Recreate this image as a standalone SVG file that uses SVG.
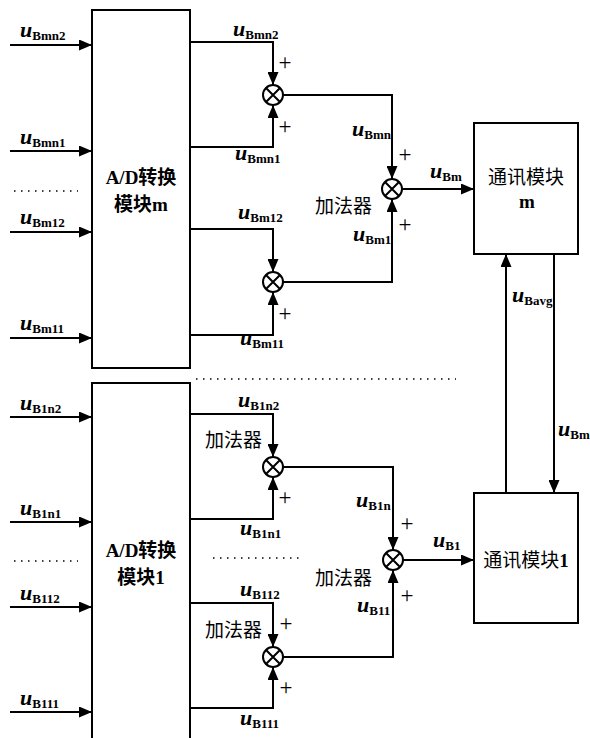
<svg xmlns="http://www.w3.org/2000/svg" width="590" height="738" viewBox="0 0 590 738">
<style>
.ln{fill:none;stroke:#000;stroke-width:2}
.ar{fill:none;stroke:#000;stroke-width:2;marker-end:url(#ah)}
.bx{fill:#fff;stroke:#000;stroke-width:2}
.dot{fill:none;stroke:#000;stroke-width:1.5;stroke-dasharray:1.5 5.5}
.lb{font-family:"Liberation Serif","Noto Sans CJK SC",serif;font-weight:bold;fill:#000}
.ui{font-style:italic;font-size:22px}
.sb{font-size:13px}
.pl{font-family:"Liberation Serif",serif;font-size:23px;fill:#000}
.cn{font-family:"Liberation Serif","Noto Sans CJK SC",serif;font-size:19px;fill:#000}
.cnb{font-family:"Liberation Serif","Noto Sans CJK SC",serif;font-size:19px;font-weight:bold;fill:#000}
</style>
<defs>
<marker id="ah" markerWidth="13" markerHeight="11" refX="13" refY="5.5" orient="auto" markerUnits="userSpaceOnUse"><path d="M0,0 L13,5.5 L0,11 z" fill="#000"/></marker>
<g id="sum"><circle r="10" fill="#fff" stroke="#000" stroke-width="2"/><path d="M-7,-7 L7,7 M-7,7 L7,-7" stroke="#000" stroke-width="2"/></g>
</defs>
<rect width="590" height="738" fill="#fff"/>

<g id="connectors">
<line class="ar" x1="10" y1="45" x2="92" y2="45"/>
<line class="ar" x1="10" y1="151" x2="92" y2="151"/>
<line class="ar" x1="10" y1="232" x2="92" y2="232"/>
<line class="ar" x1="10" y1="338" x2="92" y2="338"/>
<line class="ar" x1="10" y1="417" x2="92" y2="417"/>
<line class="ar" x1="10" y1="522" x2="92" y2="522"/>
<line class="ar" x1="10" y1="607" x2="92" y2="607"/>
<line class="ar" x1="10" y1="712" x2="92" y2="712"/>
<polyline class="ar" points="190,42 273,42 273,85"/>
<polyline class="ar" points="190,147 273,147 273,105"/>
<polyline class="ar" points="190,229 273,229 273,272"/>
<polyline class="ar" points="190,335 273,335 273,292"/>
<polyline class="ar" points="283,95 392,95 392,179"/>
<polyline class="ar" points="283,282 392,282 392,199"/>
<line class="ar" x1="402" y1="189" x2="474" y2="189"/>
<polyline class="ar" points="190,414 273,414 273,457"/>
<polyline class="ar" points="190,519 273,519 273,477"/>
<polyline class="ar" points="190,603 273,603 273,647"/>
<polyline class="ar" points="190,708 273,708 273,667"/>
<polyline class="ar" points="283,467 393,467 393,550"/>
<polyline class="ar" points="283,657 393,657 393,570"/>
<line class="ar" x1="403" y1="560" x2="474" y2="560"/>
<line class="ar" x1="506" y1="493" x2="506" y2="254"/>
<line class="ar" x1="554" y1="254" x2="554" y2="493"/>
<line class="dot" x1="14" y1="191" x2="78" y2="191"/>
<line class="dot" x1="14" y1="561" x2="78" y2="561"/>
<line class="dot" x1="196" y1="379" x2="456" y2="379"/>
<line class="dot" x1="213" y1="558" x2="303" y2="558"/>
</g>

<g id="adm">
<rect class="bx" x="92" y="10" width="98" height="358"/>
<text class="cnb" x="141" y="184" text-anchor="middle">A/D转换</text>
<text class="cnb" x="141" y="211" text-anchor="middle">模块m</text>
</g>
<g id="ad1">
<rect class="bx" x="92" y="383" width="98" height="370"/>
<text class="cnb" x="141" y="557" text-anchor="middle">A/D转换</text>
<text class="cnb" x="141" y="584" text-anchor="middle">模块1</text>
</g>
<g id="commm">
<rect class="bx" x="474" y="123" width="104" height="131"/>
<text class="cn" x="526" y="184" text-anchor="middle">通讯模块</text>
<text class="cnb" x="527" y="208" text-anchor="middle">m</text>
</g>
<g id="comm1">
<rect class="bx" x="474" y="493" width="104" height="130"/>
<text class="cn" x="526" y="567" text-anchor="middle">通讯模块<tspan font-weight="bold">1</tspan></text>
</g>

<g id="summ1"><use href="#sum" x="273" y="95"/></g>
<g id="summ2"><use href="#sum" x="273" y="282"/></g>
<g id="summ"><use href="#sum" x="392" y="189"/></g>
<g id="sum11"><use href="#sum" x="273" y="467"/></g>
<g id="sum12"><use href="#sum" x="273" y="657"/></g>
<g id="sum1"><use href="#sum" x="393" y="560"/></g>

<g id="labels">
<text class="lb" x="20" y="37"><tspan class="ui">u</tspan><tspan class="sb" dy="3">Bmn2</tspan></text>
<text class="lb" x="20" y="144"><tspan class="ui">u</tspan><tspan class="sb" dy="3">Bmn1</tspan></text>
<text class="lb" x="20" y="224"><tspan class="ui">u</tspan><tspan class="sb" dy="3">Bm12</tspan></text>
<text class="lb" x="20" y="330"><tspan class="ui">u</tspan><tspan class="sb" dy="3">Bm11</tspan></text>
<text class="lb" x="20" y="410"><tspan class="ui">u</tspan><tspan class="sb" dy="3">B1n2</tspan></text>
<text class="lb" x="20" y="515"><tspan class="ui">u</tspan><tspan class="sb" dy="3">B1n1</tspan></text>
<text class="lb" x="20" y="600"><tspan class="ui">u</tspan><tspan class="sb" dy="3">B112</tspan></text>
<text class="lb" x="20" y="705"><tspan class="ui">u</tspan><tspan class="sb" dy="3">B111</tspan></text>

<text class="lb" x="233" y="36"><tspan class="ui">u</tspan><tspan class="sb" dy="3">Bmn2</tspan></text>
<text class="lb" x="235" y="160"><tspan class="ui">u</tspan><tspan class="sb" dy="3">Bmn1</tspan></text>
<text class="lb" x="352" y="136"><tspan class="ui">u</tspan><tspan class="sb" dy="3">Bmn</tspan></text>
<text class="lb" x="238" y="219"><tspan class="ui">u</tspan><tspan class="sb" dy="3">Bm12</tspan></text>
<text class="lb" x="353" y="241"><tspan class="ui">u</tspan><tspan class="sb" dy="3">Bm1</tspan></text>
<text class="lb" x="240" y="345"><tspan class="ui">u</tspan><tspan class="sb" dy="3">Bm11</tspan></text>
<text class="lb" x="430" y="178"><tspan class="ui">u</tspan><tspan class="sb" dy="3">Bm</tspan></text>
<text class="lb" x="512" y="302"><tspan class="ui">u</tspan><tspan class="sb" dy="3">Bavg</tspan></text>
<text class="lb" x="558" y="436"><tspan class="ui">u</tspan><tspan class="sb" dy="3" font-size="12px">Bm</tspan></text>

<text class="lb" x="238" y="407"><tspan class="ui">u</tspan><tspan class="sb" dy="3">B1n2</tspan></text>
<text class="lb" x="240" y="535"><tspan class="ui">u</tspan><tspan class="sb" dy="3">B1n1</tspan></text>
<text class="lb" x="356" y="507"><tspan class="ui">u</tspan><tspan class="sb" dy="3">B1n</tspan></text>
<text class="lb" x="433" y="547"><tspan class="ui">u</tspan><tspan class="sb" dy="3">B1</tspan></text>
<text class="lb" x="240" y="596"><tspan class="ui">u</tspan><tspan class="sb" dy="3">B112</tspan></text>
<text class="lb" x="357" y="612"><tspan class="ui">u</tspan><tspan class="sb" dy="3">B11</tspan></text>
<text class="lb" x="240" y="725"><tspan class="ui">u</tspan><tspan class="sb" dy="3">B111</tspan></text>

<text class="cn" x="315" y="213">加法器</text>
<text class="cn" x="205" y="447">加法器</text>
<text class="cn" x="315" y="585">加法器</text>
<text class="cn" x="205" y="637">加法器</text>

<text class="pl" x="285" y="70" text-anchor="middle">+</text>
<text class="pl" x="285" y="134" text-anchor="middle">+</text>
<text class="pl" x="405" y="162" text-anchor="middle">+</text>
<text class="pl" x="405" y="232" text-anchor="middle">+</text>
<text class="pl" x="285" y="321" text-anchor="middle">+</text>
<text class="pl" x="285" y="505" text-anchor="middle">+</text>
<text class="pl" x="407" y="531" text-anchor="middle">+</text>
<text class="pl" x="407" y="603" text-anchor="middle">+</text>
<text class="pl" x="286" y="631" text-anchor="middle">+</text>
<text class="pl" x="286" y="695" text-anchor="middle">+</text>
</g>
</svg>
